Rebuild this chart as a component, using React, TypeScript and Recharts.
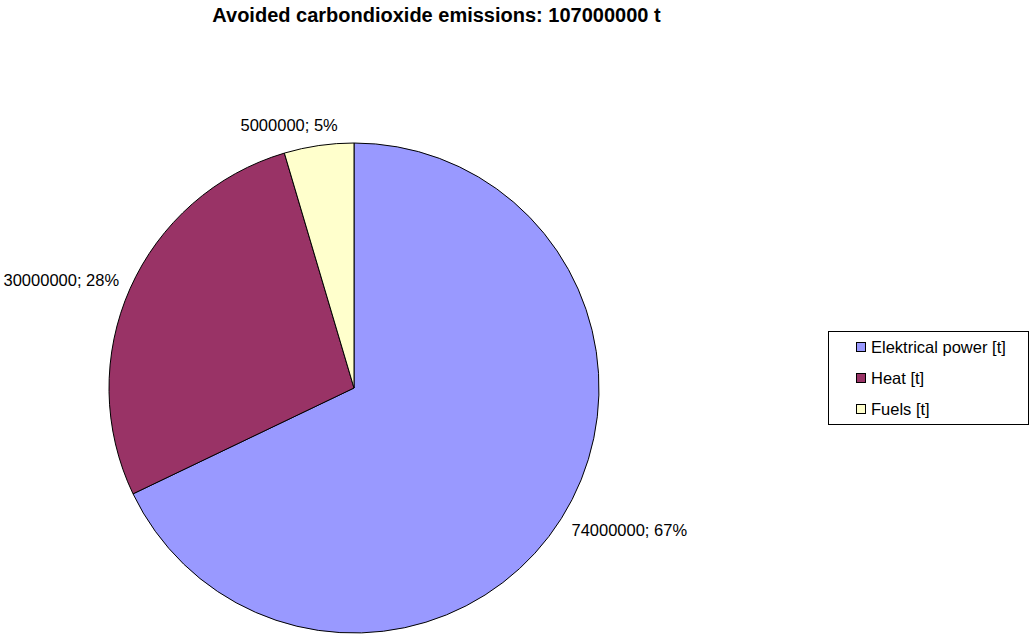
import React from 'react';
import { PieChart, Pie, Cell, Legend } from 'recharts';

const categories = ['Elektrical power [t]', 'Heat [t]', 'Fuels [t]'];
const values = [74000000, 30000000, 5000000];
const percentLabels = ['67%', '28%', '5%'];
const colors = ['#9999FF', '#993366', '#FFFFCC'];
const title = 'Avoided carbondioxide emissions: 107000000 t';

const data = categories.map((name, i) => ({ name, value: values[i] }));

const FONT = '"Liberation Sans", Arial, Helvetica, sans-serif';

const estimateWidth = (s: string, size: number) => {
  let w = 0;
  for (const ch of s) {
    if (ch === '%') w += 0.889;
    else if (ch === ';' || ch === ' ') w += 0.278;
    else w += 0.556;
  }
  return w * size;
};

const renderLabel = (props: any) => {
  const { cx, cy, midAngle, outerRadius, index } = props;
  const RAD = Math.PI / 180;
  const cosA = Math.cos(midAngle * RAD);
  const sinA = Math.sin(midAngle * RAD);
  const R = outerRadius + 12;
  const px = cx + R * cosA;
  const py = cy - R * sinA;
  const text = `${values[index]}; ${percentLabels[index]}`;
  const w = estimateWidth(text, 16.5);
  const f = Math.sign(cosA) * Math.min(1, Math.abs(cosA) * 4);
  const x = px + (f * w) / 2;
  const y = py - 9 * sinA;
  return (
    <text
      key={`lbl-${index}`}
      x={x}
      y={y}
      textAnchor="middle"
      dominantBaseline="central"
      fontSize={16.5}
      fontFamily={FONT}
      fill="#000"
    >
      {text}
    </text>
  );
};

const renderLegend = () => (
  <div
    style={{
      width: 199,
      height: 92,
      border: '1px solid #000',
      background: '#fff',
      position: 'relative',
      fontFamily: FONT,
      fontSize: 16.5,
      color: '#000',
    }}
  >
    {categories.map((c, i) => (
      <div
        key={c}
        style={{
          position: 'absolute',
          left: 27,
          top: 15 + i * 31 - 10,
          height: 20,
          display: 'flex',
          alignItems: 'center',
          whiteSpace: 'nowrap',
        }}
      >
        <span
          style={{
            display: 'inline-block',
            width: 8,
            height: 8,
            border: '1px solid #000',
            background: colors[i],
            marginRight: 5,
          }}
        />
        <span>{c}</span>
      </div>
    ))}
  </div>
);

export default function App() {
  return (
    <div style={{ position: 'absolute', left: 0, top: 0, width: 1030, height: 635, background: '#fff' }}>
      <div
        style={{
          position: 'absolute',
          left: 0,
          top: 2,
          width: 873,
          textAlign: 'center',
          fontFamily: FONT,
          fontWeight: 'bold',
          fontSize: 20,
          lineHeight: '26px',
          color: '#000',
        }}
      >
        {title}
      </div>
      <PieChart
        width={1030}
        height={635}
        margin={{ top: 0, right: 0, bottom: 0, left: 0 }}
        style={{ position: 'absolute', left: 0, top: 0 }}
      >
        <Pie
          data={data}
          dataKey="value"
          nameKey="name"
          cx={354}
          cy={388}
          outerRadius={245}
          startAngle={90}
          endAngle={-270}
          stroke="#000"
          strokeWidth={1}
          label={renderLabel}
          labelLine={false}
          isAnimationActive={false}
        >
          {data.map((d, i) => (
            <Cell key={d.name} fill={colors[i]} stroke="#000" strokeWidth={1} />
          ))}
        </Pie>
        <Legend
          content={renderLegend}
          wrapperStyle={{ position: 'absolute', left: 828, top: 331, width: 201, height: 94, bottom: 'auto', right: 'auto' }}
        />
      </PieChart>
    </div>
  );
}
